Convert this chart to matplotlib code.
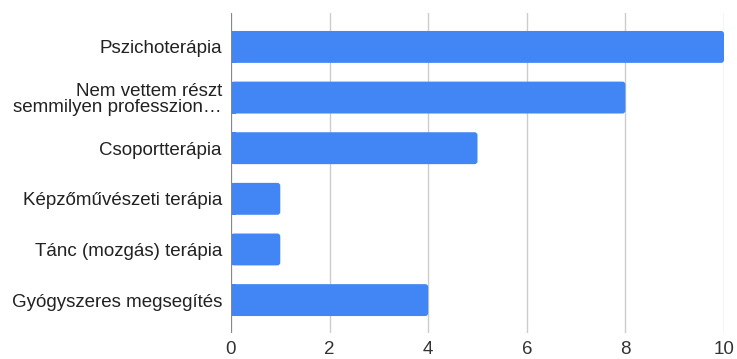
import matplotlib
matplotlib.use("Agg")
import matplotlib.pyplot as plt
from matplotlib.patches import FancyBboxPatch

categories = [
    "Pszichoterápia",
    "Nem vettem részt\nsemmilyen professzion…",
    "Csoportterápia",
    "Képzőművészeti terápia",
    "Tánc (mozgás) terápia",
    "Gyógyszeres megsegítés",
]
values = [10, 8, 5, 1, 1, 4]
xticks = [0, 2, 4, 6, 8, 10]

plt.rcParams["font.family"] = ["Liberation Sans", "DejaVu Sans"]

fig = plt.figure(figsize=(7.37, 3.59), dpi=100)
ax = fig.add_axes([0.3134, 0.0724, 0.6690, 0.8914])

ypos = list(range(len(categories)))
bars = ax.barh(ypos, values, height=0.63, color="#4285F4", zorder=3)

ax.set_xlim(0, 10)
ax.set_ylim(5.65, -0.67)

# replace the plain rectangles with rounded ones
for b in bars:
    x, y = b.get_x(), b.get_y()
    w, h = b.get_width(), b.get_height()
    b.set_visible(False)
    p = FancyBboxPatch((x, y), w, h,
                       boxstyle="round,pad=0,rounding_size=0.06",
                       mutation_aspect=0.97,
                       facecolor="#4285F4", edgecolor="none", zorder=3)
    ax.add_patch(p)
    # square off the left end against the axis
    ax.add_patch(plt.Rectangle((x, y), min(w, 0.1), h,
                               facecolor="#4285F4", edgecolor="none", zorder=3))

ax.set_xticks(xticks)
ax.set_xticklabels([str(t) for t in xticks], fontsize=13.5, color="#333333")
ax.set_yticks(ypos)
ax.set_yticklabels(categories, fontsize=13.5, color="#222222", linespacing=0.95)
ax.tick_params(axis="y", length=0, pad=6.5)
ax.tick_params(axis="x", length=0, pad=6)

ax.grid(axis="x", color="#cccccc", linewidth=1, zorder=0)
ax.axvline(0, color="#888888", linewidth=1.5, zorder=4)
for s in ax.spines.values():
    s.set_visible(False)

fig.savefig("out.png", dpi=100)
